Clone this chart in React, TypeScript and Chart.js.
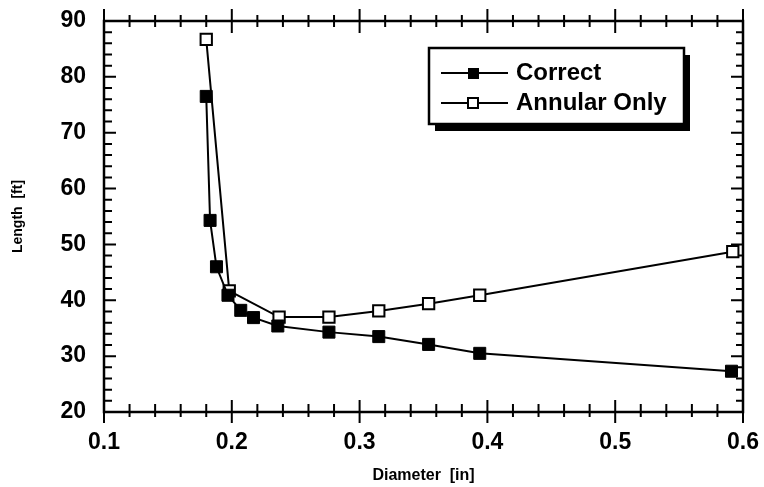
import React, { useEffect, useRef } from "react";
import { Chart, registerables } from "chart.js";

Chart.register(...registerables);

const correctX = [0.18, 0.183, 0.188, 0.197, 0.207, 0.217, 0.236, 0.276, 0.315, 0.354, 0.394, 0.591];
const correctY = [76.5, 54.3, 46.0, 40.9, 38.2, 36.9, 35.4, 34.3, 33.5, 32.1, 30.5, 27.3];
const annularX = [0.18, 0.198, 0.237, 0.276, 0.315, 0.354, 0.394, 0.592];
const annularY = [86.7, 41.7, 37.0, 37.0, 38.1, 39.4, 40.9, 48.7];
const seriesNames = ["Correct", "Annular Only"];
const xTitle = "Diameter  [in]";
const yTitle = "Length  [ft]";

const FONT = "'Liberation Sans', Arial, Helvetica, sans-serif";

const framePlugin = {
  id: "frame",
  beforeDatasetsDraw(chart: any) {
    const { ctx, chartArea } = chart;
    const { left, right, top, bottom } = chartArea;
    const xs = chart.scales.x;
    const ys = chart.scales.y;
    ctx.save();
    ctx.strokeStyle = "#000";
    ctx.lineWidth = 2.5;
    ctx.beginPath();
    ctx.rect(left, top, right - left, bottom - top);
    ctx.stroke();
    ctx.lineWidth = 2;
    ctx.beginPath();
    for (let i = 0; i <= 25; i++) {
      const v = xs.min + i * 0.02;
      const px = xs.getPixelForValue(v);
      const major = i % 5 === 0;
      ctx.moveTo(px, bottom - (major ? 12 : 8));
      ctx.lineTo(px, bottom + (major ? 11 : 5));
      ctx.moveTo(px, top - (major ? 12 : 6));
      ctx.lineTo(px, top + (major ? 12 : 6));
    }
    for (let i = 0; i <= 35; i++) {
      const v = ys.min + i * 2;
      const py = ys.getPixelForValue(v);
      const major = i % 5 === 0;
      ctx.moveTo(left, py);
      ctx.lineTo(left + (major ? 12 : 8), py);
      ctx.moveTo(right, py);
      ctx.lineTo(right - (major ? 12 : 7), py);
    }
    ctx.stroke();
    ctx.restore();
  },
};

const legendPlugin = {
  id: "customLegend",
  afterDraw(chart: any) {
    const { ctx } = chart;
    ctx.save();
    const bx = 429, by = 48, bw = 255, bh = 76;
    ctx.fillStyle = "#000";
    ctx.fillRect(bx + 6, by + 7, bw, bh);
    ctx.fillStyle = "#fff";
    ctx.fillRect(bx, by, bw, bh);
    ctx.strokeStyle = "#000";
    ctx.lineWidth = 2.5;
    ctx.strokeRect(bx, by, bw, bh);
    const rows = [73, 103];
    rows.forEach((ry, i) => {
      ctx.lineWidth = 2;
      ctx.beginPath();
      ctx.moveTo(441, ry);
      ctx.lineTo(508, ry);
      ctx.stroke();
      if (i === 0) {
        ctx.fillStyle = "#000";
        ctx.fillRect(468, ry - 5, 11, 11);
      } else {
        ctx.fillStyle = "#fff";
        ctx.fillRect(468, ry - 5, 10, 10);
        ctx.lineWidth = 2;
        ctx.strokeRect(468, ry - 5, 10, 10);
      }
      ctx.fillStyle = "#000";
      ctx.font = `bold 24px ${FONT}`;
      ctx.textBaseline = "middle";
      ctx.textAlign = "left";
      ctx.fillText(seriesNames[i], 516, ry);
    });
    ctx.restore();
  },
};

export default function App() {
  const ref = useRef<HTMLCanvasElement | null>(null);
  useEffect(() => {
    if (!ref.current) return;
    const chart = new Chart(ref.current, {
      type: "line",
      data: {
        datasets: [
          {
            label: seriesNames[0],
            data: correctX.map((x, i) => ({ x, y: correctY[i] })),
            borderColor: "#000",
            borderWidth: 2,
            backgroundColor: "#000",
            pointStyle: "rect",
            pointRadius: 8.5,
            pointBackgroundColor: "#000",
            pointBorderColor: "#000",
            pointBorderWidth: 1,
            tension: 0,
          },
          {
            label: seriesNames[1],
            data: annularX.map((x, i) => ({ x, y: annularY[i] })),
            borderColor: "#000",
            borderWidth: 2,
            backgroundColor: "#fff",
            pointStyle: "rect",
            pointRadius: 8,
            pointBackgroundColor: "#fff",
            pointBorderColor: "#000",
            pointBorderWidth: 2,
            tension: 0,
          },
        ],
      },
      options: {
        animation: false,
        responsive: false,
        devicePixelRatio: 1,
        layout: { padding: { top: 21, right: 21, left: 0, bottom: 0 } },
        plugins: { legend: { display: false }, tooltip: { enabled: false } },
        scales: {
          x: {
            type: "linear",
            min: 0.1,
            max: 0.6,
            grid: { display: false, drawTicks: false },
            border: { display: false },
            ticks: {
              stepSize: 0.1,
              color: "#000",
              padding: 17,
              maxRotation: 0,
              font: { family: FONT, size: 23, weight: "bold" },
              callback: (v: any) => Number(v).toFixed(1),
            },
            title: {
              display: true,
              text: xTitle,
              color: "#000",
              font: { family: FONT, size: 16, weight: "bold" },
              padding: { top: 0, bottom: 2 },
            },
            afterFit: (s: any) => {
              s.height = 75;
              s.paddingLeft = 0;
              s.paddingRight = 0;
            },
          },
          y: {
            type: "linear",
            min: 20,
            max: 90,
            grid: { display: false, drawTicks: false },
            border: { display: false },
            ticks: {
              stepSize: 10,
              color: "#000",
              padding: 18,
              font: { family: FONT, size: 23, weight: "bold" },
            },
            title: {
              display: true,
              text: yTitle,
              color: "#000",
              font: { family: FONT, size: 14, weight: "bold" },
              padding: { top: 10, bottom: 0 },
            },
            afterFit: (s: any) => {
              s.width = 104;
              s.paddingTop = 0;
              s.paddingBottom = 0;
            },
          },
        },
      },
      plugins: [framePlugin, legendPlugin],
    });
    return () => chart.destroy();
  }, []);
  return (
    <div style={{ position: "fixed", left: 0, top: 0, width: 764, height: 487, background: "#fff" }}>
      <canvas ref={ref} width={764} height={487} />
    </div>
  );
}
